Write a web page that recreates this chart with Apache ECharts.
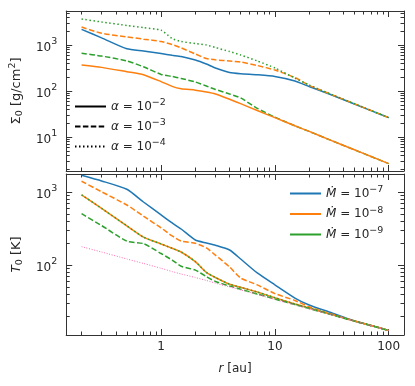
<!DOCTYPE html>
<html>
<head>
<meta charset="utf-8">
<script src="https://cdn.jsdelivr.net/npm/echarts@6/dist/echarts.min.js"></script>
<style>
html, body { margin: 0; background: #fff; }
#chart { width: 415px; height: 386px; }
</style>
</head>
<body>
<div id="chart"></div>
<script>
// radius grid [au], shared by every curve
var radius = [0.2, 0.3, 0.5, 0.7, 1, 1.25, 1.5, 2, 2.5, 3, 4, 5, 7, 10, 15, 20, 30, 50, 70, 100];

// surface density Sigma_0 [g/cm^2]
var sigmaA2M7 = [2190, 1430, 826, 741, 650, 597, 562, 472, 386, 316, 252, 237, 225, 207, 165, 125, 86, 52, 37.4, 26.3];
var sigmaA3M8 = [2450, 1800, 1500, 1340, 1190, 1020, 865, 637, 509, 476, 449, 427, 358, 286, 196, 133, 88, 52.6, 37.6, 26.3];
var sigmaA4M9 = [3670, 3160, 2660, 2380, 2100, 1385, 1190, 1080, 1000, 880, 720, 606, 450, 316, 190, 135, 88, 52.6, 37.6, 26.3];
var sigmaA3M9 = [660, 575, 449, 336, 229, 207, 187, 157, 128, 108, 86, 70.5, 42, 27, 17.5, 13.2, 8.77, 5.26, 3.76, 2.63];
var sigmaA2M8 = [367, 326, 262, 226, 160, 126, 112, 104, 95, 86, 66, 53, 37.6, 26.3, 17.5, 13.2, 8.77, 5.26, 3.76, 2.63];

// midplane temperature T_0 [K]
var tempA2M7 = [1710, 1430, 1100, 736, 490, 380, 314, 222, 202, 188, 162, 122, 78.5, 54, 35.6, 28.6, 22.9, 17.3, 15, 12.8];
var tempA3M8 = [1415, 1016, 670, 470, 326, 252, 215, 200, 173, 138, 95, 67, 54, 41, 33, 27, 22, 17.3, 15, 12.8];
var tempA2M8 = [920, 602, 347, 243, 196, 171, 152, 112, 80, 68, 55, 50, 43, 36, 29.5, 26, 21.6, 17.3, 15, 12.8];
var tempA4M9 = [920, 602, 347, 243, 196, 171, 152, 112, 80, 68, 55, 50, 43, 36, 29.5, 26, 21.6, 17.3, 15, 12.8];
var tempA3M9 = [509, 350, 214, 198, 145, 118, 97, 86, 70, 60, 52, 47, 40.5, 34.5, 29, 25.6, 21.5, 17.2, 14.9, 12.8];
var tempIrr = [180, 152, 122, 106, 91, 82, 76, 68, 62, 57, 50.5, 46, 40, 34, 28.7, 25.4, 21.4, 17.2, 14.9, 12.8];

// tick positions
var xMajor = [1, 10, 100];
var xMinor = [0.2, 0.3, 0.4, 0.5, 0.6, 0.7, 0.8, 0.9, 2, 3, 4, 5, 6, 7, 8, 9, 20, 30, 40, 50, 60, 70, 80, 90];
var sigmaMajor = [10, 100, 1000];
var sigmaMinor = [2, 3, 4, 5, 6, 7, 8, 9, 20, 30, 40, 50, 60, 70, 80, 90, 200, 300, 400, 500, 600, 700, 800, 900, 2000, 3000, 4000, 5000];
var tempMajor = [100, 1000];
var tempMinor = [20, 30, 40, 50, 60, 70, 80, 90, 200, 300, 400, 500, 600, 700, 800, 900];

var chart = echarts.init(document.getElementById('chart'));
var ink = '#262626';
var frame = '#333';
var font = 'DejaVu Sans';

var blue = '#1f77b4', orange = '#ff7f0e', green = '#2ca02c', pink = '#ff69b4';
var dashed = [5.5, 2.4];
var dotted = [1.5, 2.5];

var supRich = {
    b: { fontSize: 12, lineHeight: 17, verticalAlign: 'bottom', color: ink },
    s: { fontSize: 9.5, lineHeight: 10, verticalAlign: 'top', color: ink },
    sub: { fontSize: 9.5, lineHeight: 10, verticalAlign: 'bottom', color: ink },
    i: { fontStyle: 'italic', fontSize: 12, lineHeight: 17, color: ink }
};

function powLabel(v) {
    return '{b|10}{s|' + Math.round(Math.log10(v)) + '}';
}

function axis(grid, pos, range, ticks, len, line, labels, extra) {
    var a = {
        type: 'log',
        gridIndex: grid,
        position: pos,
        min: range[0],
        max: range[1],
        splitLine: { show: false },
        axisLine: { show: line, lineStyle: { color: frame, width: 1 } },
        axisTick: { show: true, inside: true, length: len, customValues: ticks,
            lineStyle: { color: frame, width: 1 } },
        axisLabel: { show: !!labels }
    };
    if (labels) {
        a.axisLabel = labels;
    }
    for (var k in extra) a[k] = extra[k];
    return a;
}

var xRange = [0.1466, 136.4];
var sigmaRange = [1.82, 5480];
var tempRange = [11.1, 1780];

var xLabels = {
    show: true, customValues: xMajor, margin: 6, color: ink, fontSize: 12, fontFamily: font,
    formatter: function (v) { return String(Math.round(v)); }
};
function yLabels(major) {
    return { show: true, customValues: major, margin: 9, formatter: powLabel, rich: supRich, fontFamily: font };
}

var xAxes = [];
[0, 1].forEach(function (g) {
    xAxes.push(axis(g, 'bottom', xRange, xMajor, 6, true, g === 1 ? xLabels : null,
        g === 1 ? { name: '{i|r} [au]', nameLocation: 'middle', nameGap: 25,
            nameTextStyle: { fontSize: 12, color: ink, fontFamily: font, rich: supRich } } : {}));
    xAxes.push(axis(g, 'bottom', xRange, xMinor, 3.5, false, null, {}));
    xAxes.push(axis(g, 'top', xRange, xMajor, 6, true, null, {}));
    xAxes.push(axis(g, 'top', xRange, xMinor, 3.5, false, null, {}));
});

var yAxes = [];
[[sigmaRange, sigmaMajor, sigmaMinor, 'Σ{sub|0} [g/cm{s|2}]'],
 [tempRange, tempMajor, tempMinor, '{i|T}{sub|0} [K]']].forEach(function (d, g) {
    yAxes.push(axis(g, 'left', d[0], d[1], 6, true, yLabels(d[1]), {
        name: d[3], nameLocation: 'middle', nameRotate: 90, nameGap: 37,
        nameTextStyle: { fontSize: 13, lineHeight: 17, color: ink, fontFamily: font, rich: supRich }
    }));
    yAxes.push(axis(g, 'left', d[0], d[2], 3.5, false, null, {}));
    yAxes.push(axis(g, 'right', d[0], d[1], 6, true, null, {}));
    yAxes.push(axis(g, 'right', d[0], d[2], 3.5, false, null, {}));
});

function curve(name, values, color, type, width, panel) {
    return {
        name: name,
        type: 'line',
        xAxisIndex: panel * 4,
        yAxisIndex: panel * 4,
        data: radius.map(function (r, i) { return [r, values[i]]; }),
        smooth: 0.2,
        symbol: 'none',
        lineStyle: { color: color, type: type, width: width },
        itemStyle: { color: color },
        z: 3
    };
}

function legendKey(name, color, type, panel) {
    return {
        name: name, type: 'line', xAxisIndex: panel * 4, yAxisIndex: panel * 4,
        data: [], symbol: 'none',
        lineStyle: { color: color, type: type, width: 2 }, itemStyle: { color: color }
    };
}

var legendText = {
    a2: '{i|α} = 10{s|−2}', a3: '{i|α} = 10{s|−3}', a4: '{i|α} = 10{s|−4}',
    m7: '{i|Ṁ} = 10{s|−7}', m8: '{i|Ṁ} = 10{s|−8}', m9: '{i|Ṁ} = 10{s|−9}'
};
function legendBox(names, left, top, gap) {
    return {
        data: names, orient: 'vertical', left: left, top: top,
        itemWidth: 31, itemHeight: 16, itemGap: gap, selectedMode: false,
        itemStyle: { opacity: 0 },
        formatter: function (n) { return legendText[n]; },
        textStyle: { fontSize: 12, lineHeight: 17, color: ink, fontFamily: font, rich: supRich }
    };
}

var option = {
    animation: false,
    textStyle: { fontFamily: font },
    grid: [
        { left: 61, top: 11, width: 343, height: 160 },
        { left: 61, top: 174, width: 343, height: 161 }
    ],
    xAxis: xAxes,
    yAxis: yAxes,
    legend: [
        legendBox(['a2', 'a3', 'a4'], 69, 93, 3),
        legendBox(['m7', 'm8', 'm9'], 284, 180, 3.5)
    ],
    series: [
        curve('s1', sigmaA2M7, blue, 'solid', 1.5, 0),
        curve('s2', sigmaA3M8, orange, dashed, 1.5, 0),
        curve('s3', sigmaA4M9, green, dotted, 1.5, 0),
        curve('s4', sigmaA3M9, green, dashed, 1.5, 0),
        curve('s5', sigmaA2M8, orange, 'solid', 1.5, 0),
        curve('t1', tempA2M7, blue, 'solid', 1.5, 1),
        curve('t2', tempA3M8, orange, dashed, 1.5, 1),
        curve('t3', tempA2M8, orange, 'solid', 1.5, 1),
        curve('t4', tempA4M9, green, dotted, 1.5, 1),
        curve('t5', tempA3M9, green, dashed, 1.5, 1),
        curve('t6', tempIrr, pink, [1, 1.6], 1, 1),
        legendKey('a2', '#000', 'solid', 0),
        legendKey('a3', '#000', dashed, 0),
        legendKey('a4', '#000', dotted, 0),
        legendKey('m7', blue, 'solid', 1),
        legendKey('m8', orange, 'solid', 1),
        legendKey('m9', green, 'solid', 1)
    ]
};
chart.setOption(option);
</script>
</body>
</html>
